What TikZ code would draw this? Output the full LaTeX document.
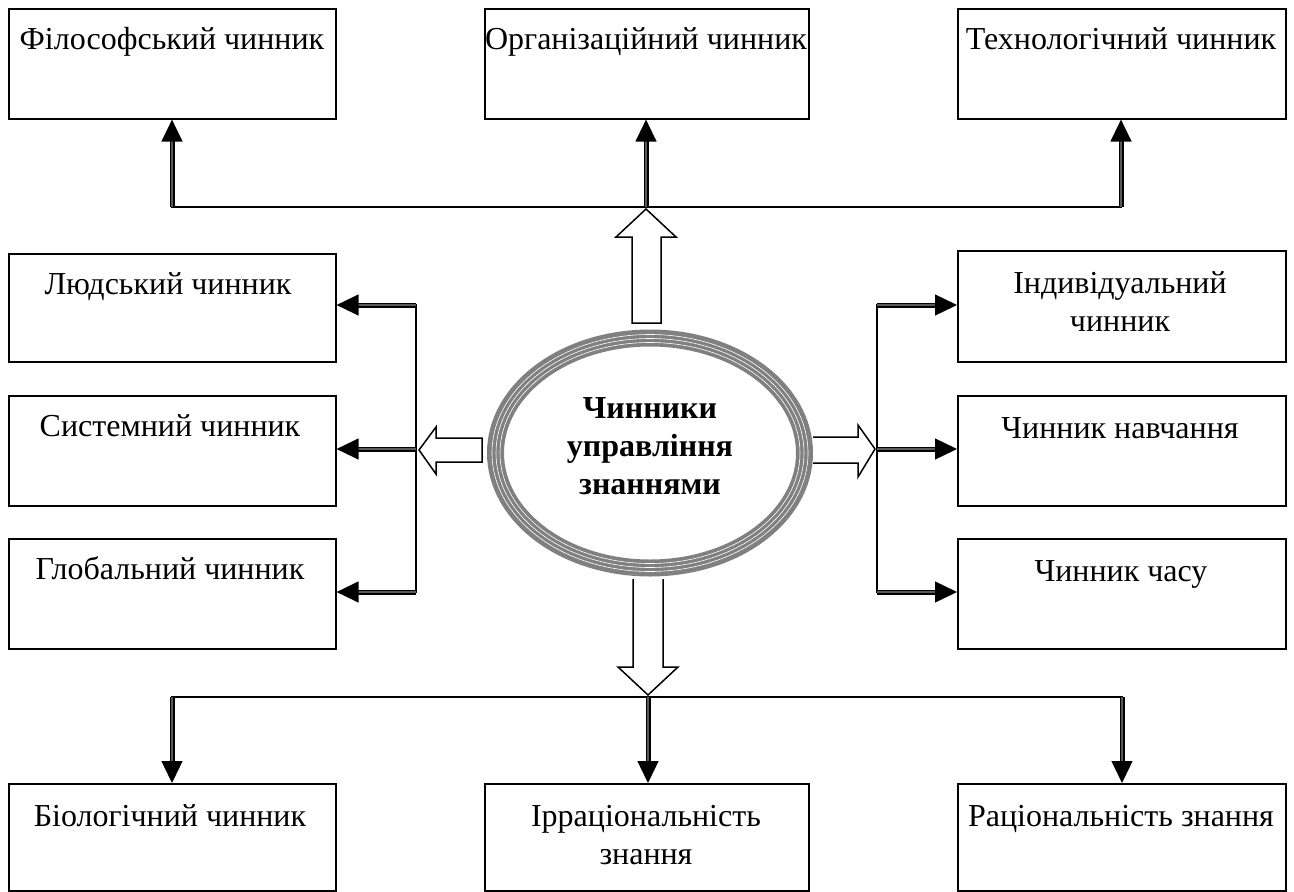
\documentclass[tikz,border=0pt]{standalone}
\usepackage{fontspec}
\setmainfont{Liberation Serif}
\usetikzlibrary{arrows.meta,shapes.geometric}
\begin{document}
\begin{tikzpicture}[x=1pt,y=-1pt,
  box/.style 2 args={draw=black,line width=1.6pt,minimum width=#1,minimum height=#2,anchor=north west,inner sep=0pt},
  lbl/.style={font=\fontsize{32}{38}\selectfont,align=center,anchor=base,inner sep=0pt},
  core/.style={font=\fontsize{32}{38}\selectfont\bfseries,align=center,anchor=base,inner sep=0pt},
  conn/.style={line width=1.6pt,line cap=rect},
  arr/.style={line width=1.3pt,double=gray!70!black,double distance=2.4pt,-{Triangle[length=22pt,width=21pt]}},
  blk/.style={draw=black,line width=1.5pt,fill=white,line join=miter},
  ring/.style={white,line width=0.6pt}]
\useasboundingbox (0,0) rectangle (1294,892);

% boxes
\node[box={327pt}{110pt}] (phil) at (8,8) {};
\node[box={324pt}{110pt}] (org) at (484,8) {};
\node[box={328pt}{110pt}] (tech) at (957,8) {};
\node[box={327pt}{108pt}] (hum) at (8,253) {};
\node[box={327pt}{110pt}] (sys) at (8,395) {};
\node[box={327pt}{110pt}] (glob) at (8,538) {};
\node[box={328pt}{111pt}] (ind) at (957,250) {};
\node[box={328pt}{110pt}] (learn) at (957,395) {};
\node[box={328pt}{110pt}] (time) at (957,538) {};
\node[box={327pt}{107pt}] (bio) at (8,783) {};
\node[box={324pt}{107pt}] (irr) at (484,783) {};
\node[box={328pt}{107pt}] (rat) at (957,783) {};

% labels
\node[lbl] (tphil) at (172,49) {Філософський чинник};
\node[lbl] (torg) at (646,49) {Організаційний чинник};
\node[lbl] (ttech) at (1121,49) {Технологічний чинник};
\node[lbl] (thum) at (168,294) {Людський чинник};
\node[lbl] (tsys) at (170,436) {Системний чинник};
\node[lbl] (tglob) at (170,579) {Глобальний чинник};
\node[lbl] (tind) at (1120,331) {Індивідуальний\\чинник};
\node[lbl] (tlearn) at (1120,438) {Чинник навчання};
\node[lbl] (ttime) at (1121,581) {Чинник часу};
\node[lbl] (tbio) at (170,826) {Біологічний чинник};
\node[lbl] (tirr) at (646,864) {Ірраціональність\\знання};
\node[lbl] (trat) at (1121,826) {Раціональність знання};

% central ellipse
\node[ellipse,minimum width=326pt,minimum height=247pt,inner sep=0pt] (centre) at (650,453) {};
\draw[gray,line width=17pt] (centre.center) ellipse [x radius=154.5, y radius=115];
\draw[ring] (centre.center) ellipse [x radius=158, y radius=118.5];
\draw[ring] (centre.center) ellipse [x radius=154, y radius=114.5];
\draw[ring] (centre.center) ellipse [x radius=150, y radius=110.5];
\node[core] (tcore) at (650,494) {Чинники\\управління\\знаннями};

% block arrows
\draw[blk] (632,323) -- (632,237) -- (616,237) -- (646,209) -- (676,237) -- (661,237) -- (661,323) -- cycle;
\draw[blk] (482,438) -- (436,438) -- (436,427) -- (419,450) -- (436,474) -- (436,462) -- (482,462) -- cycle;
\draw[blk] (813,437) -- (858,437) -- (858,425) -- (875,449) -- (858,477) -- (858,463) -- (813,463);
\draw[blk] (633,579) -- (633,667) -- (618,667) -- (648,695) -- (678,667) -- (663,667) -- (663,579);

% junction coordinates
\coordinate (tl) at (172,207);
\coordinate (tm) at (646,207);
\coordinate (tr) at (1121,207);
\coordinate (lt) at (416,305);
\coordinate (lm) at (416,449);
\coordinate (lb) at (416,592);
\coordinate (rt) at (877,305);
\coordinate (rm) at (877,449);
\coordinate (rb) at (877,592);
\coordinate (bl) at (172,697);
\coordinate (bm) at (648,697);
\coordinate (br) at (1122,697);

% connector lines
\draw[conn] (tl) -- (tr);
\draw[conn] (lt) -- (lb);
\draw[conn] (rt) -- (rb);
\draw[conn] (bl) -- (br);

% arrows to boxes
\draw[arr] (tl) -- (tl |- phil.south);
\draw[arr] (tm) -- (tm |- org.south);
\draw[arr] (tr) -- (tr |- tech.south);
\draw[arr] (lt) -- (lt -| hum.east);
\draw[arr] (lm) -- (lm -| sys.east);
\draw[arr] (lb) -- (lb -| glob.east);
\draw[arr] (rt) -- (rt -| ind.west);
\draw[arr] (rm) -- (rm -| learn.west);
\draw[arr] (rb) -- (rb -| time.west);
\draw[arr] (bl) -- (bl |- bio.north);
\draw[arr] (bm) -- (bm |- irr.north);
\draw[arr] (br) -- (br |- rat.north);
\end{tikzpicture}
\end{document}
